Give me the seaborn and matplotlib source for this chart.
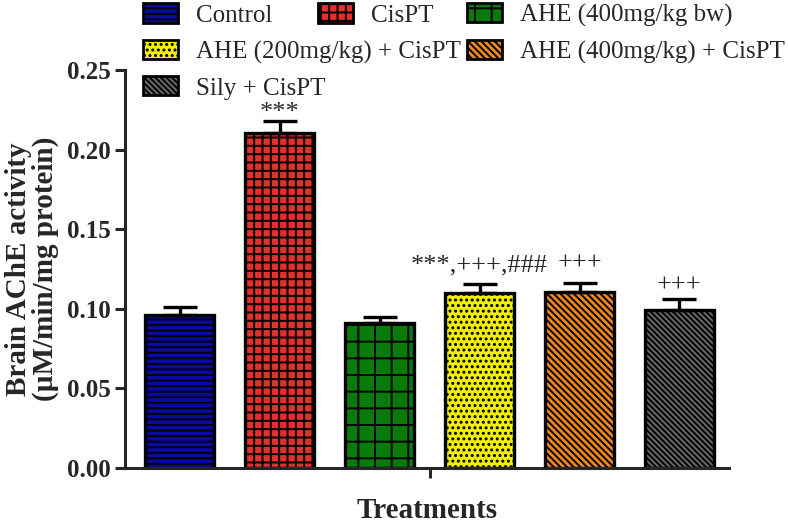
import matplotlib
matplotlib.use("Agg")
import matplotlib.pyplot as plt
import matplotlib.patches as mpatches
import seaborn as sns
import pandas as pd

groups = ["Control", "CisPT", "AHE (400mg/kg bw)", "AHE (200mg/kg) + CisPT",
          "AHE (400mg/kg) + CisPT", "Sily + CisPT"]
values = [0.096, 0.2105, 0.091, 0.110, 0.1105, 0.099]
errors = [0.005, 0.0075, 0.0037, 0.0055, 0.0055, 0.007]
annotations = ["", "***", "", "***,+++,###", "+++", "+++"]
colors = ["#0A0AA0", "#E2302A", "#0A7A0A", "#F2F000", "#F08A1E", "#6A6A6A"]
hatches = ["---", "++", "+", "...", "\\\\\\\\\\", "\\\\\\\\\\\\"]
yticks = [0.00, 0.05, 0.10, 0.15, 0.20, 0.25]

# vertical gap (data units) between error cap and annotation text
annot_gap = [0.0, -0.0015, 0.0, 0.0050, 0.0055, 0.0018]

sns.set_style("ticks")
plt.rcParams["font.family"] = ["Liberation Serif", "DejaVu Serif"]
plt.rcParams["hatch.linewidth"] = 1.4
plt.rcParams["hatch.color"] = "black"

df = pd.DataFrame({"group": groups, "value": values})

fig = plt.figure(figsize=(7.88, 5.25), dpi=100)
ax = fig.add_axes([0.1586, 0.109, 0.767, 0.757])

sns.barplot(data=df, x="group", y="value", hue="group", palette=colors,
            legend=False, width=0.69, edgecolor="black", linewidth=2.4,
            saturation=1, ax=ax)
for p, h in zip(ax.patches, hatches):
    p.set_hatch(h)

xs = list(range(len(groups)))
ax.errorbar(xs, values, yerr=[[0] * len(errors), errors], fmt="none",
            ecolor="black", elinewidth=2.4, capsize=12.5, capthick=2.4, zorder=5)

for x, v, e, a, g in zip(xs, values, errors, annotations, annot_gap):
    if a:
        ax.text(x, v + e + g, a, ha="center", va="bottom", fontsize=19)

ax.set_xlim(-0.55, 5.5)
ax.set_ylim(0, 0.25)
ax.set_yticks(yticks)
ax.set_yticklabels([f"{t:.2f}" for t in yticks], fontsize=18, fontweight="bold")
ax.set_xticks([2.5])
ax.set_xticklabels([""])
ax.tick_params(axis="both", width=2.2, length=7, direction="out", pad=3)
for s in ["left", "bottom"]:
    ax.spines[s].set_linewidth(2.2)
sns.despine(ax=ax)
ax.set_xlabel("Treatments", fontsize=21, fontweight="bold", labelpad=11)
ax.set_ylabel("Brain AChE activity\n(\u00b5M/min/mg protein)", fontsize=21,
              fontweight="bold", labelpad=6, linespacing=1.0)

# legend entries placed in flow layout
W, H = 788, 525
positions = [(143, 15), (318, 15), (467, 15), (143, 52), (467, 52), (143, 88)]
for g, c, h, (px, py) in zip(groups, colors, hatches, positions):
    handle = mpatches.Patch(facecolor=c, hatch=h, edgecolor="black", linewidth=2)
    fig.legend([handle], [g], loc="center left",
               bbox_to_anchor=(px / W, 1 - py / H), frameon=False,
               fontsize=18, handlelength=1.4, handleheight=0.8,
               handletextpad=0.72, borderpad=0, borderaxespad=0)

fig.savefig("out.png", dpi=100)
